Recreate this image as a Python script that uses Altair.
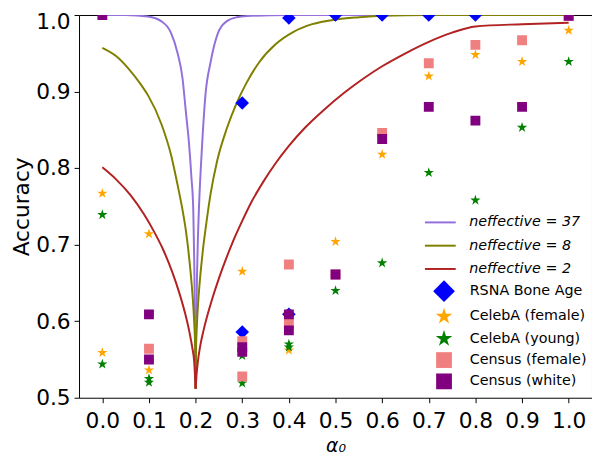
import altair as alt
import pandas as pd

# ---------------- theoretical curves ----------------
curve_names = ["neffective = 37", "neffective = 8", "neffective = 2"]
curve_colors = ["#9370DB", "#808000", "#B22222"]

n37_left_alpha = [0.0, 0.05, 0.098, 0.126, 0.147, 0.161, 0.172, 0.179, 0.186, 0.191, 0.195, 0.197, 0.199, 0.2]
n37_left_acc = [1.0, 1.0, 0.998, 0.992, 0.977, 0.951, 0.917, 0.874, 0.831, 0.788, 0.745, 0.68, 0.58, 0.512]
n37_right_alpha = [0.2, 0.201, 0.203, 0.205, 0.207, 0.214, 0.221, 0.232, 0.246, 0.267, 0.288, 0.32, 0.4, 1.0]
n37_right_acc = [0.512, 0.58, 0.66, 0.71, 0.745, 0.831, 0.895, 0.938, 0.973, 0.992, 0.997, 0.999, 1.0, 1.0]

n8_left_alpha = [0.0, 0.03, 0.056, 0.084, 0.098, 0.127, 0.147, 0.161, 0.172, 0.179, 0.184, 0.188, 0.192,
                 0.195, 0.197, 0.199, 0.2]
n8_left_acc = [0.957, 0.946, 0.930, 0.908, 0.895, 0.857, 0.818, 0.779, 0.745, 0.719, 0.695, 0.672, 0.645,
               0.62, 0.598, 0.565, 0.512]
n8_right_alpha = [0.2, 0.201, 0.203, 0.205, 0.208, 0.212, 0.216, 0.221, 0.232, 0.246, 0.267, 0.288, 0.308,
                  0.336, 0.372, 0.41, 0.45, 0.5, 0.55, 0.6, 0.7, 1.0]
n8_right_acc = [0.512, 0.565, 0.598, 0.62, 0.645, 0.672, 0.695, 0.719, 0.766, 0.809, 0.852, 0.885, 0.910,
                0.938, 0.962, 0.978, 0.988, 0.994, 0.997, 0.999, 1.0, 1.0]

n2_left_alpha = [0.0, 0.03, 0.06, 0.09, 0.11, 0.13, 0.15, 0.165, 0.178, 0.187, 0.193, 0.197, 0.2]
n2_left_acc = [0.801, 0.785, 0.765, 0.739, 0.718, 0.694, 0.664, 0.637, 0.609, 0.585, 0.565, 0.547, 0.512]
n2_right_alpha = [0.2, 0.202, 0.205, 0.21, 0.217, 0.225, 0.237, 0.25, 0.265, 0.28, 0.3, 0.32, 0.345, 0.37,
                  0.4, 0.435, 0.475, 0.52, 0.56, 0.6, 0.65, 0.7, 0.75, 0.8, 0.9, 1.0]
n2_right_acc = [0.512, 0.53, 0.548, 0.568, 0.588, 0.607, 0.632, 0.656, 0.681, 0.704, 0.731, 0.756, 0.782, 0.805,
                0.829, 0.853, 0.876, 0.899, 0.917, 0.933, 0.950, 0.965, 0.977, 0.985, 0.988, 0.990]

# ---------------- experimental points ----------------
datasets = ["RSNA Bone Age", "CelebA (female)", "CelebA (young)", "Census (female)", "Census (white)"]
dataset_colors = ["#0000FF", "#FFA500", "#008000", "#F08080", "#800080"]

rsna_alpha = [0.3, 0.3, 0.4, 0.4, 0.5, 0.6, 0.7, 0.8]
rsna_acc = [0.885, 0.586, 0.996, 0.609, 1.0, 1.0, 1.0, 1.0]

celeba_f_alpha = [0.0, 0.0, 0.1, 0.1, 0.3, 0.4, 0.4, 0.5, 0.6, 0.7, 0.8, 0.9, 1.0]
celeba_f_acc = [0.767, 0.559, 0.714, 0.536, 0.665, 0.601, 0.562, 0.704, 0.818, 0.920, 0.948, 0.939, 0.980]

celeba_y_alpha = [0.0, 0.0, 0.1, 0.1, 0.3, 0.3, 0.4, 0.4, 0.5, 0.6, 0.7, 0.8, 0.9, 1.0]
celeba_y_acc = [0.739, 0.544, 0.525, 0.520, 0.555, 0.519, 0.570, 0.566, 0.640, 0.676, 0.794, 0.758, 0.853, 0.939]

census_f_alpha = [0.1, 0.3, 0.3, 0.4, 0.4, 0.5, 0.6, 0.7, 0.8, 0.9, 1.0]
census_f_acc = [0.564, 0.574, 0.528, 0.674, 0.597, 0.661, 0.846, 0.937, 0.961, 0.967, 0.999]

census_w_alpha = [0.0, 0.1, 0.1, 0.3, 0.3, 0.4, 0.4, 0.5, 0.6, 0.7, 0.8, 0.9, 1.0]
census_w_acc = [1.0, 0.609, 0.550, 0.566, 0.560, 0.609, 0.588, 0.661, 0.838, 0.880, 0.862, 0.880, 0.999]

x_ticks = [0.0, 0.1, 0.2, 0.3, 0.4, 0.5, 0.6, 0.7, 0.8, 0.9, 1.0]
y_ticks = [0.5, 0.6, 0.7, 0.8, 0.9, 1.0]

# marker shapes (normalised SVG paths)
DIAMOND = "M0,-1.375L1.375,0L0,1.375L-1.375,0Z"
STAR = ("M0,-1.1L0.247,-0.34L1.046,-0.34L0.399,0.13L0.647,0.89L0,0.42"
        "L-0.647,0.89L-0.399,0.13L-1.046,-0.34L-0.247,-0.34Z")
dataset_shapes = [DIAMOND, STAR, STAR, "square", "square"]

# ---------------- build tables ----------------
curve_rows = []
for name, la, lv, ra, rv in [
    (curve_names[0], n37_left_alpha, n37_left_acc, n37_right_alpha, n37_right_acc),
    (curve_names[1], n8_left_alpha, n8_left_acc, n8_right_alpha, n8_right_acc),
    (curve_names[2], n2_left_alpha, n2_left_acc, n2_right_alpha, n2_right_acc),
]:
    for a, v in zip(la, lv):
        curve_rows.append({"alpha": a, "acc": v, "curve": name, "branch": name + " L"})
    for a, v in zip(ra, rv):
        curve_rows.append({"alpha": a, "acc": v, "curve": name, "branch": name + " R"})
curves_df = pd.DataFrame(curve_rows)

point_rows = []
for name, xs, ys in [
    (datasets[0], rsna_alpha, rsna_acc),
    (datasets[1], celeba_f_alpha, celeba_f_acc),
    (datasets[2], celeba_y_alpha, celeba_y_acc),
    (datasets[3], census_f_alpha, census_f_acc),
    (datasets[4], census_w_alpha, census_w_acc),
]:
    for a, v in zip(xs, ys):
        point_rows.append({"alpha": a, "acc": v, "dataset": name})
points_df = pd.DataFrame(point_rows)

FONT = "DejaVu Sans"

x_enc = alt.X(
    "alpha:Q",
    scale=alt.Scale(domain=[-0.05, 1.05], nice=False, zero=False),
    axis=alt.Axis(values=x_ticks, format=".1f", labelPadding=8,
                  title="α₀", titleFontStyle="italic", titleFontSize=19,
                  titleBaseline="alphabetic", titleY=54),
)
y_enc = alt.Y(
    "acc:Q",
    scale=alt.Scale(domain=[0.5, 1.0], nice=False, zero=False),
    axis=alt.Axis(values=y_ticks, format=".1f", title="Accuracy", titlePadding=2,
                  labelOffset={"condition": {"test": "datum.value == 1", "value": 7}, "value": 0}),
)

LEG_FS = 14.5
line_legend = alt.Legend(
    title=None, orient="none", legendX=359, legendY=203,
    symbolType="M-3.9,0L3.9,0", symbolSize=64, symbolStrokeWidth=2,
    labelFontSize=LEG_FS, labelFont=FONT, labelFontStyle="italic", labelColor="black",
    labelOffset=22, rowPadding=8.6, padding=0, labelLimit=300,
)
point_legend = alt.Legend(
    title=None, orient="none", legendX=362, legendY=272,
    symbolSize=256, symbolStrokeWidth=0, symbolOpacity=1,
    labelFontSize=LEG_FS, labelFont=FONT, labelColor="black",
    labelOffset=18, rowPadding=5.6, padding=0, labelLimit=300,
)

lines = alt.Chart(curves_df).mark_line(strokeWidth=2, clip=True, interpolate="monotone").encode(
    x=x_enc,
    y=y_enc,
    color=alt.Color("curve:N", scale=alt.Scale(domain=curve_names, range=curve_colors), legend=line_legend),
    detail="branch:N",
)

points = alt.Chart(points_df).mark_point(filled=True, opacity=1, size=100, clip=True, strokeWidth=0).encode(
    x=x_enc,
    y=y_enc,
    color=alt.Color("dataset:N", scale=alt.Scale(domain=datasets, range=dataset_colors), legend=point_legend),
    shape=alt.Shape("dataset:N", scale=alt.Scale(domain=datasets, range=dataset_shapes), legend=point_legend),
    order=alt.Order("rank:Q"),
).transform_window(rank="row_number()")

chart = (
    alt.layer(lines, points)
    .resolve_scale(color="independent", shape="independent")
    .properties(
        width=520, height=388,
        autosize=alt.AutoSizeParams(type="none"),
        padding={"left": 72, "top": 4, "right": 0, "bottom": 59},
    )
    .configure_view(stroke="black", strokeWidth=1)
    .configure_axis(
        grid=False, domain=False, tickColor="black", tickSize=5, tickWidth=1,
        labelFont=FONT, labelFontSize=22, labelColor="black", labelPadding=4,
        titleFont=FONT, titleFontSize=22, titleFontWeight="normal", titleColor="black",
    )
)

chart.save("out.html", embed_options={"renderer": "svg", "actions": False})
